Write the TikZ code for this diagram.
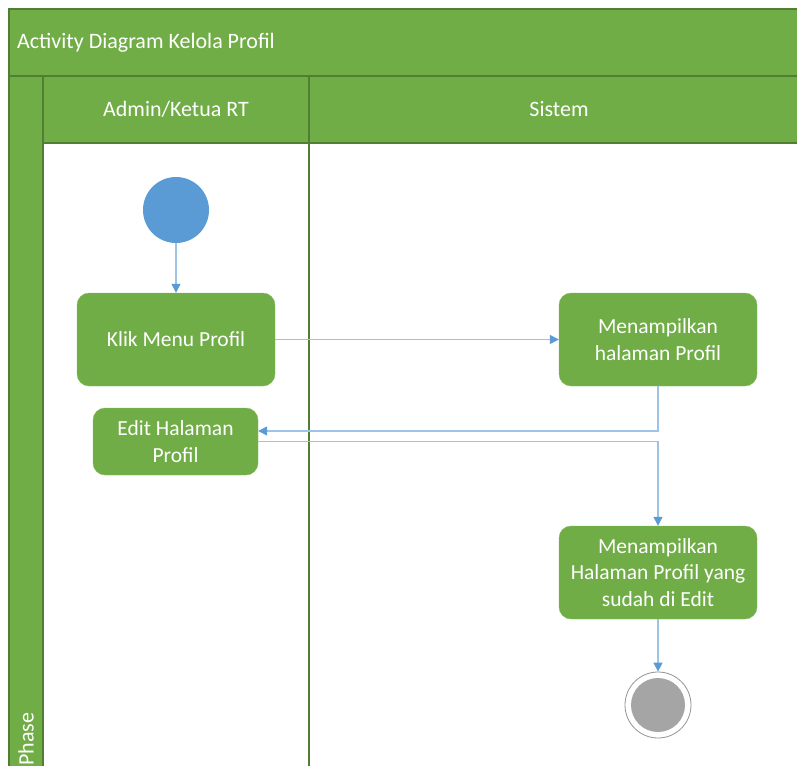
\documentclass[tikz,border=0pt]{standalone}
\usepackage{fontspec}
\setmainfont{Carlito}
\usetikzlibrary{arrows.meta}
\definecolor{lanegreen}{HTML}{70AD47}
\definecolor{edgegreen}{HTML}{507E32}
\definecolor{startblue}{HTML}{5B9BD5}
\definecolor{linkblue}{HTML}{9DC3E6}
\definecolor{endgray}{HTML}{A5A5A5}
\tikzset{
  act/.style={draw=lanegreen!85!white, fill=lanegreen, rounded corners=12pt, text=white, align=center, font=\fontsize{21.5}{26.8}\selectfont, inner sep=0pt},
  band/.style={fill=lanegreen, draw=edgegreen, line width=1.2pt},
  hdr/.style={text=white, font=\fontsize{22}{26}\selectfont},
  flow/.style={draw=linkblue, line width=1.3pt, -{Triangle[length=9pt,width=9pt,color=startblue]}}
}
\begin{document}
\begin{tikzpicture}[x=1pt,y=-1pt]
\useasboundingbox (0,0) rectangle (797,765);
\begin{scope}
\clip (0,0) rectangle (797,765);
% title band
\path[band] (9,9) rectangle (820,76);
% phase column
\path[band] (9,76) rectangle (43,780);
% lane headers
\path[band] (43,76) rectangle (309,143);
\path[band] (309,76) rectangle (820,143);
% lane separator
\draw[edgegreen, line width=1.2pt] (309,143) -- (309,780);
\node[hdr, anchor=west, inner sep=0pt] (title) at (17,43) {Activity Diagram Kelola Profil};
\node[hdr] (lane1) at (176,109) {Admin/Ketua RT};
\node[hdr] (lane2) at (559,109) {Sistem};
\node[hdr, rotate=90, anchor=west, inner sep=0pt] (phase) at (26,766) {Phase};
\end{scope}
% start
\node[circle, fill=startblue, minimum size=66pt, inner sep=0pt] (start) at (176,210) {};
% activities
\node[act, minimum width=198pt, minimum height=93pt] (klik) at (176,339.5) {Klik Menu Profil};
\node[act, minimum width=198pt, minimum height=93pt] (tampil) at (658,339.5) {Menampilkan\\halaman Profil};
\node[act, minimum width=165pt, minimum height=67pt] (edit) at (175.5,441.5) {Edit Halaman\\Profil};
\node[act, minimum width=198pt, minimum height=93pt] (hasil) at (658,572.5) {Menampilkan\\Halaman Profil yang\\sudah di Edit};
% end
\node[circle, draw=endgray!90!black, line width=0.8pt, fill=white, minimum size=66pt, inner sep=0pt] (end) at (658,705) {};
\node[circle, fill=endgray, minimum size=54pt, inner sep=0pt] (endin) at (end) {};
% flows
\draw[flow] (start) -- (klik);
\draw[flow] (klik) -- (tampil);
\draw[flow] (tampil.south) |- ([yshift=10.5pt]edit.east);
\draw[flow] (edit.east) -| (hasil.north);
\draw[flow] (hasil) -- (end);
\end{tikzpicture}
\end{document}
